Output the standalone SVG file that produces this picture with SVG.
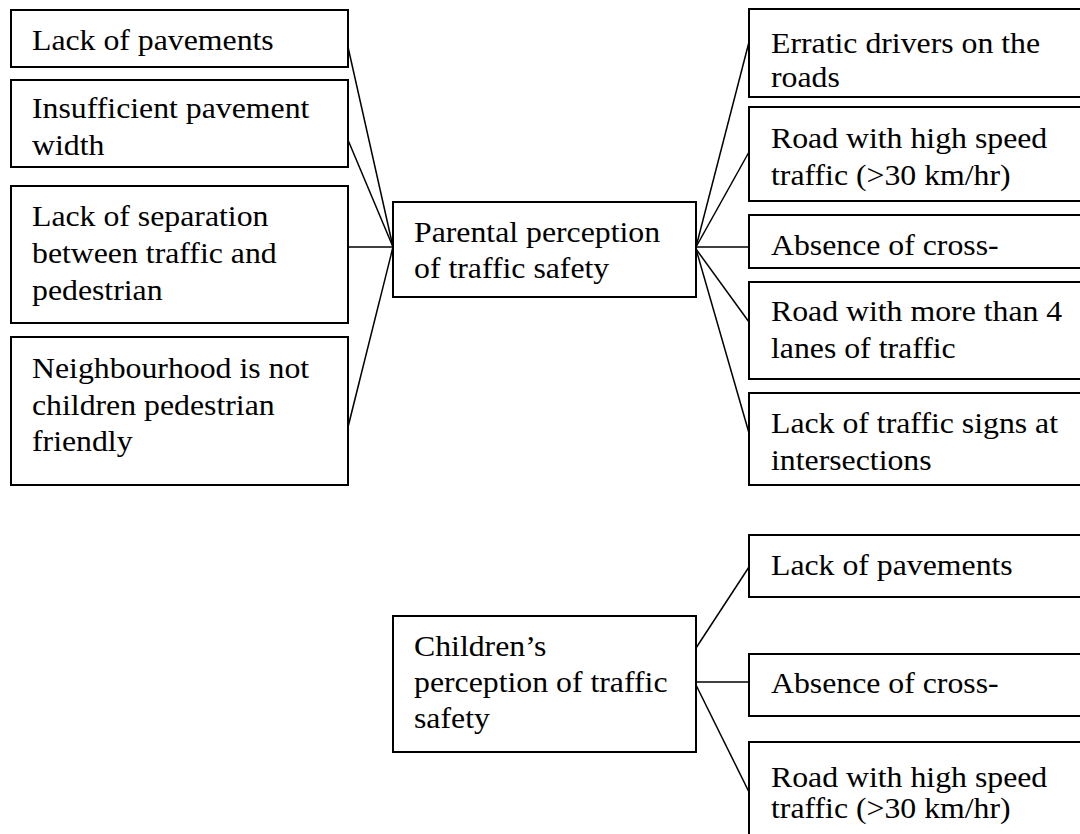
<svg xmlns="http://www.w3.org/2000/svg" width="1080" height="834" viewBox="0 0 1080 834">
  <style>
    .box { fill: #ffffff; stroke: #000000; stroke-width: 2; }
    .lbl { font-family: "Liberation Serif", "Times New Roman", serif; font-size: 28.7px; fill: #000000; }
    .link { stroke: #000000; stroke-width: 1.5; fill: none; }
  </style>
  <rect x="0" y="0" width="1080" height="834" fill="#ffffff"/>

  <!-- connectors -->
  <g id="connectors">
    <line class="link" x1="348" y1="47" x2="393" y2="247"/>
    <line class="link" x1="348" y1="140" x2="393" y2="247"/>
    <line class="link" x1="348" y1="247" x2="393" y2="247"/>
    <line class="link" x1="348" y1="427" x2="393" y2="247"/>
    <line class="link" x1="696" y1="247" x2="749" y2="42"/>
    <line class="link" x1="696" y1="247" x2="749" y2="152"/>
    <line class="link" x1="696" y1="247" x2="749" y2="247"/>
    <line class="link" x1="696" y1="249" x2="749" y2="322"/>
    <line class="link" x1="696" y1="249" x2="749" y2="433"/>
    <line class="link" x1="696" y1="648" x2="749" y2="567"/>
    <line class="link" x1="696" y1="682" x2="749" y2="682"/>
    <line class="link" x1="696" y1="685" x2="749" y2="792"/>
  </g>

  <!-- left-hand factors -->
  <g id="left-pavements">
    <rect class="box" x="11" y="10" width="337" height="57"/>
    <text class="lbl" transform="matrix(1.108 0 0 1 32 0)"><tspan x="0" y="50">Lack of pavements</tspan></text>
  </g>
  <g id="left-width">
    <rect class="box" x="11" y="80" width="337" height="87"/>
    <text class="lbl" transform="matrix(1.108 0 0 1 32 0)"><tspan x="0" y="118">Insufficient pavement</tspan><tspan x="0" y="155">width</tspan></text>
  </g>
  <g id="left-separation">
    <rect class="box" x="11" y="186" width="337" height="137"/>
    <text class="lbl" transform="matrix(1.108 0 0 1 32 0)"><tspan x="0" y="226.5">Lack of separation</tspan><tspan x="0" y="263">between traffic and</tspan><tspan x="0" y="300">pedestrian</tspan></text>
  </g>
  <g id="left-neighbourhood">
    <rect class="box" x="11" y="337" width="337" height="148"/>
    <text class="lbl" transform="matrix(1.108 0 0 1 32 0)"><tspan x="0" y="378">Neighbourhood is not</tspan><tspan x="0" y="415">children pedestrian</tspan><tspan x="0" y="451.5">friendly</tspan></text>
  </g>

  <!-- central node: parents -->
  <g id="parental">
    <rect class="box" x="393" y="202" width="303" height="95"/>
    <text class="lbl" transform="matrix(1.108 0 0 1 414 0)"><tspan x="0" y="242">Parental perception</tspan><tspan x="0" y="278">of traffic safety</tspan></text>
  </g>

  <!-- right-hand factors (parents) -->
  <g id="right-erratic">
    <rect class="box" x="749" y="9" width="340" height="88"/>
    <text class="lbl" transform="matrix(1.108 0 0 1 771 0)"><tspan x="0" y="53">Erratic drivers on the</tspan><tspan x="0" y="87">roads</tspan></text>
  </g>
  <g id="right-speed">
    <rect class="box" x="749" y="107" width="340" height="94"/>
    <text class="lbl" transform="matrix(1.108 0 0 1 771 0)"><tspan x="0" y="148">Road with high speed</tspan><tspan x="0" y="185">traffic (&gt;30 km/hr)</tspan></text>
  </g>
  <g id="right-crossing">
    <rect class="box" x="749" y="215" width="340" height="53"/>
    <text class="lbl" transform="matrix(1.108 0 0 1 771 0)"><tspan x="0" y="255">Absence of cross-</tspan></text>
  </g>
  <g id="right-lanes">
    <rect class="box" x="749" y="282" width="340" height="97"/>
    <text class="lbl" transform="matrix(1.108 0 0 1 771 0)"><tspan x="0" y="321">Road with more than 4</tspan><tspan x="0" y="358">lanes of traffic</tspan></text>
  </g>
  <g id="right-signs">
    <rect class="box" x="749" y="393" width="340" height="92"/>
    <text class="lbl" transform="matrix(1.108 0 0 1 771 0)"><tspan x="0" y="433">Lack of traffic signs at</tspan><tspan x="0" y="470">intersections</tspan></text>
  </g>

  <!-- central node: children -->
  <g id="children">
    <rect class="box" x="393" y="616" width="303" height="136"/>
    <text class="lbl" transform="matrix(1.108 0 0 1 414 0)"><tspan x="0" y="656.5">Children’s</tspan><tspan x="0" y="692.5">perception of traffic</tspan><tspan x="0" y="728">safety</tspan></text>
  </g>

  <!-- right-hand factors (children) -->
  <g id="child-pavements">
    <rect class="box" x="749" y="535" width="340" height="62"/>
    <text class="lbl" transform="matrix(1.108 0 0 1 771 0)"><tspan x="0" y="575">Lack of pavements</tspan></text>
  </g>
  <g id="child-crossing">
    <rect class="box" x="749" y="654" width="340" height="62"/>
    <text class="lbl" transform="matrix(1.108 0 0 1 771 0)"><tspan x="0" y="693">Absence of cross-</tspan></text>
  </g>
  <g id="child-speed">
    <rect class="box" x="749" y="742" width="340" height="110"/>
    <text class="lbl" transform="matrix(1.108 0 0 1 771 0)"><tspan x="0" y="787">Road with high speed</tspan><tspan x="0" y="818">traffic (&gt;30 km/hr)</tspan></text>
  </g>
</svg>
